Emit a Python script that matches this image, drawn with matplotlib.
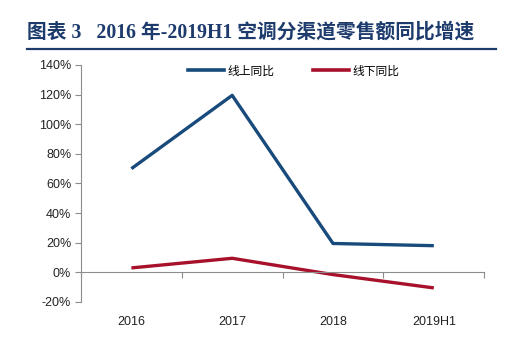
import matplotlib.pyplot as plt
from matplotlib.lines import Line2D

# 空调分渠道零售额同比增速（%）
years = ["2016", "2017", "2018", "2019H1"]
online_yoy = [70, 119.5, 19.5, 18]
offline_yoy = [3, 9.5, -1.5, -10.5]
series_names = ["线上同比", "线下同比"]

BLUE = "#184a7b"
RED = "#a8112b"
TITLE_BLUE = "#1d3b6c"
GREY = "#8c8c8c"

plt.rcParams["font.family"] = ["Liberation Sans", "Noto Sans CJK SC"]

fig = plt.figure(figsize=(5.19, 3.42), dpi=100)
fig.patch.set_facecolor("white")

# 标题与下划线
fig.text(0.052, 0.905, "图表 3   2016 年-2019H1 空调分渠道零售额同比增速",
         family=["Liberation Serif", "Noto Sans CJK SC"], fontweight="bold",
         fontsize=14.2, color=TITLE_BLUE, va="center", ha="left")
fig.add_artist(Line2D([0.052, 0.955], [0.858, 0.858], color=TITLE_BLUE,
                      lw=1.6, transform=fig.transFigure))

ax = fig.add_axes([0.156, 0.117, 0.777, 0.693])
x = list(range(len(years)))
ax.plot(x, online_yoy, color=BLUE, lw=2.4, solid_capstyle="butt")
ax.plot(x, offline_yoy, color=RED, lw=2.4, solid_capstyle="butt")

ax.set_xlim(-0.5, len(years) - 0.5)
ax.set_ylim(-20, 140)
ax.set_yticks(range(-20, 141, 20))
ax.set_yticklabels([f"{v}%" for v in range(-20, 141, 20)])
ax.tick_params(axis="y", direction="out", length=4, width=0.8, color=GREY,
               labelsize=9, labelcolor="#222222", pad=3)

for side in ["top", "right"]:
    ax.spines[side].set_visible(False)
ax.spines["left"].set_color(GREY)
ax.spines["left"].set_linewidth(0.8)
ax.spines["bottom"].set_position(("data", 0))
ax.spines["bottom"].set_color(GREY)
ax.spines["bottom"].set_linewidth(0.8)

# 0% 轴上的分隔刻度
ax.set_xticks([i - 0.5 for i in range(len(years) + 1)])
ax.set_xticklabels([])
ax.tick_params(axis="x", direction="out", length=4, width=0.8, color=GREY)

# 类别标签放在图底部
sec = ax.secondary_xaxis(0)
sec.set_xticks(x)
sec.set_xticklabels(years)
sec.tick_params(length=0, labelsize=9, labelcolor="#222222", pad=10)
sec.spines["bottom"].set_visible(False)

# 图例
handles = [Line2D([], [], color=BLUE, lw=2.6), Line2D([], [], color=RED, lw=2.6)]
leg = ax.legend(handles, series_names, loc="center left", ncol=2, frameon=False,
                bbox_to_anchor=(0.265, 0.975), borderaxespad=0, borderpad=0,
                handlelength=3.1, handletextpad=0.3, columnspacing=3.2,
                prop={"family": ["Noto Sans CJK SC"], "size": 8.5})

fig.savefig("out.png", dpi=100, facecolor="white")
